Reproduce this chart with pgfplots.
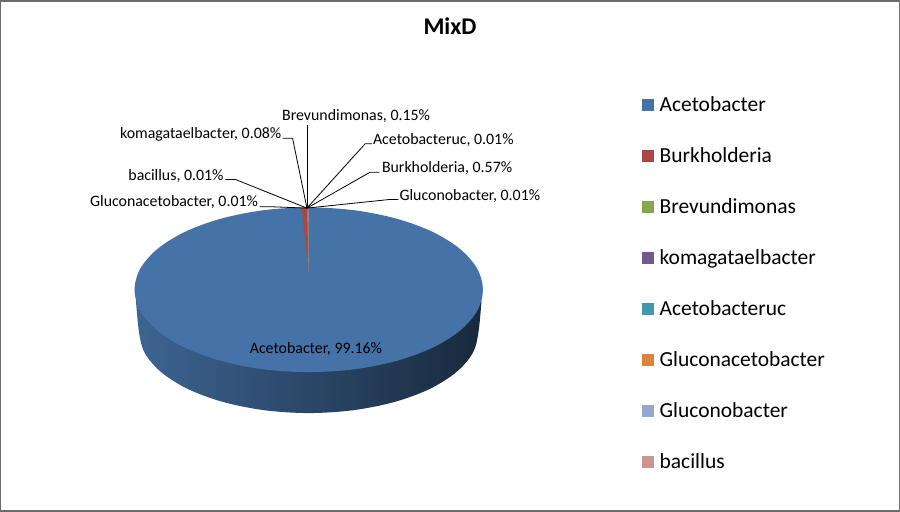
\documentclass[border=0pt]{standalone}
\usepackage{fontspec}
\setmainfont{Carlito}
\usepackage{pgfplots}
\pgfplotsset{compat=1.18}
\definecolor{cA}{HTML}{4572A7}
\definecolor{cB}{HTML}{AA4643}
\definecolor{cC}{HTML}{89A54E}
\definecolor{cD}{HTML}{71588F}
\definecolor{cE}{HTML}{4198AF}
\definecolor{cF}{HTML}{DB843D}
\definecolor{cG}{HTML}{93A9CF}
\definecolor{cH}{HTML}{D19392}
\newcommand{\lab}[3]{\node[anchor=base west,inner sep=0pt,font=\fontsize{15.9}{18}\selectfont] at (axis cs:#1,#2) {#3};}
\begin{document}
\begin{tikzpicture}
\begin{axis}[
  scale only axis, width=900pt, height=511pt,
  xmin=0, xmax=900, ymin=0, ymax=511, y dir=reverse,
  xtick=\empty, ytick=\empty,
  axis line style={draw=gray!85!black, line width=1.5pt},
  clip=false,
  legend cell align=left,
  legend image code/.code={\fill[#1] (0pt,-6pt) rectangle (12pt,6pt);},
  legend style={at={(axis cs:642,96)}, anchor=north west, draw=none, fill=none,
    font=\fontsize{21.5}{25}\selectfont, row sep=34.7pt, inner sep=0pt, outer sep=0pt,
    nodes={inner xsep=6pt, inner ysep=0pt}},
]
% side of the pie
\addplot[forget plot, draw=none, smooth, tension=0.55, left color=cA!88!black, middle color=cA!62!black, right color=cA!36!black] coordinates {
 (135.4,300) (138.5,332) (144.3,353) (161.3,372.5) (188.3,389.3) (223.5,402.1) (264.5,410.2) (308.5,413)
 (352.5,410.2) (393.5,402.1) (428.7,389.3) (455.7,372.5) (472.7,353) (478.5,332) (481.6,300)} -- cycle;
% Acetobacter 99.16
\addplot[fill=cA, draw=none, smooth cycle, tension=0.55] coordinates {
 (483,289.5) (477.1,310.9) (459.6,330.75) (431.9,347.8) (395.75,360.9) (353.7,369.2) (308.5,372)
 (263.3,369.2) (221.25,360.9) (185.1,347.8) (157.4,330.75) (139.9,310.9) (134,289.5)
 (139.9,268.1) (157.4,248.25) (185.1,231.2) (221.25,218.1) (263.3,209.8) (308.5,207)
 (353.7,209.8) (395.75,218.1) (431.9,231.2) (459.6,248.25) (477.1,268.1)};
\addlegendentry{Acetobacter}
% Burkholderia 0.57
\addplot[fill=cB, draw=none] coordinates {(308.2,272) (301.5,207.6) (307,207.2)} -- cycle;
\addlegendentry{Burkholderia}
% Brevundimonas 0.15
\addplot[fill=cC, draw=none] coordinates {(308.2,272) (307,207.2) (308,207.1)} -- cycle;
\addlegendentry{Brevundimonas}
% komagataelbacter 0.08
\addplot[fill=cD, draw=none] coordinates {(308.2,272) (308,207.1) (308.4,207.1)} -- cycle;
\addlegendentry{komagataelbacter}
\addplot[fill=cE, draw=none] coordinates {(308.2,272) (308.4,207.1) (308.45,207.1)} -- cycle;
\addlegendentry{Acetobacteruc}
\addplot[fill=cF, draw=none] coordinates {(308.2,272) (308.45,207.1) (308.5,207.1)} -- cycle;
\addlegendentry{Gluconacetobacter}
\addplot[fill=cG, draw=none] coordinates {(308.2,272) (308.5,207.1) (308.55,207.1)} -- cycle;
\addlegendentry{Gluconobacter}
\addplot[fill=cH, draw=none] coordinates {(308.2,272) (308.55,207.1) (308.6,207.1)} -- cycle;
\addlegendentry{bacillus}
% leader lines
\addplot[forget plot, black, line width=0.8pt] coordinates {(306.7,207.7) (306.7,124.3)};
\addplot[forget plot, black, line width=0.8pt] coordinates {(306.7,207.7) (292.3,137.7) (282.3,137.7)};
\addplot[forget plot, black, line width=0.8pt] coordinates {(306.7,207.7) (365,143.3) (371.7,143.3)};
\addplot[forget plot, black, line width=0.8pt] coordinates {(306.7,207.7) (370,171.7) (379.3,171.7)};
\addplot[forget plot, black, line width=0.8pt] coordinates {(306.7,207.7) (390,199) (398.3,199)};
\addplot[forget plot, black, line width=0.8pt] coordinates {(306.7,207.7) (235,179) (225,179)};
\addplot[forget plot, black, line width=0.8pt] coordinates {(306.7,207.7) (270,206.3) (259.3,206.3)};
% labels
\lab{281.7}{120}{Brevundimonas, 0.15\%}
\lab{119.3}{137.7}{komagataelbacter, 0.08\%}
\lab{372.7}{144.3}{Acetobacteruc, 0.01\%}
\lab{381.7}{172}{Burkholderia, 0.57\%}
\lab{127.7}{180}{bacillus, 0.01\%}
\lab{89.3}{206}{Gluconacetobacter, 0.01\%}
\lab{399.3}{200}{Gluconobacter, 0.01\%}
\lab{249.3}{353}{Acetobacter, 99.16\%}
\node[anchor=base,inner sep=0pt,font=\fontsize{24}{28}\selectfont\bfseries] at (axis cs:450,34) {MixD};
\end{axis}
\end{tikzpicture}
\end{document}
